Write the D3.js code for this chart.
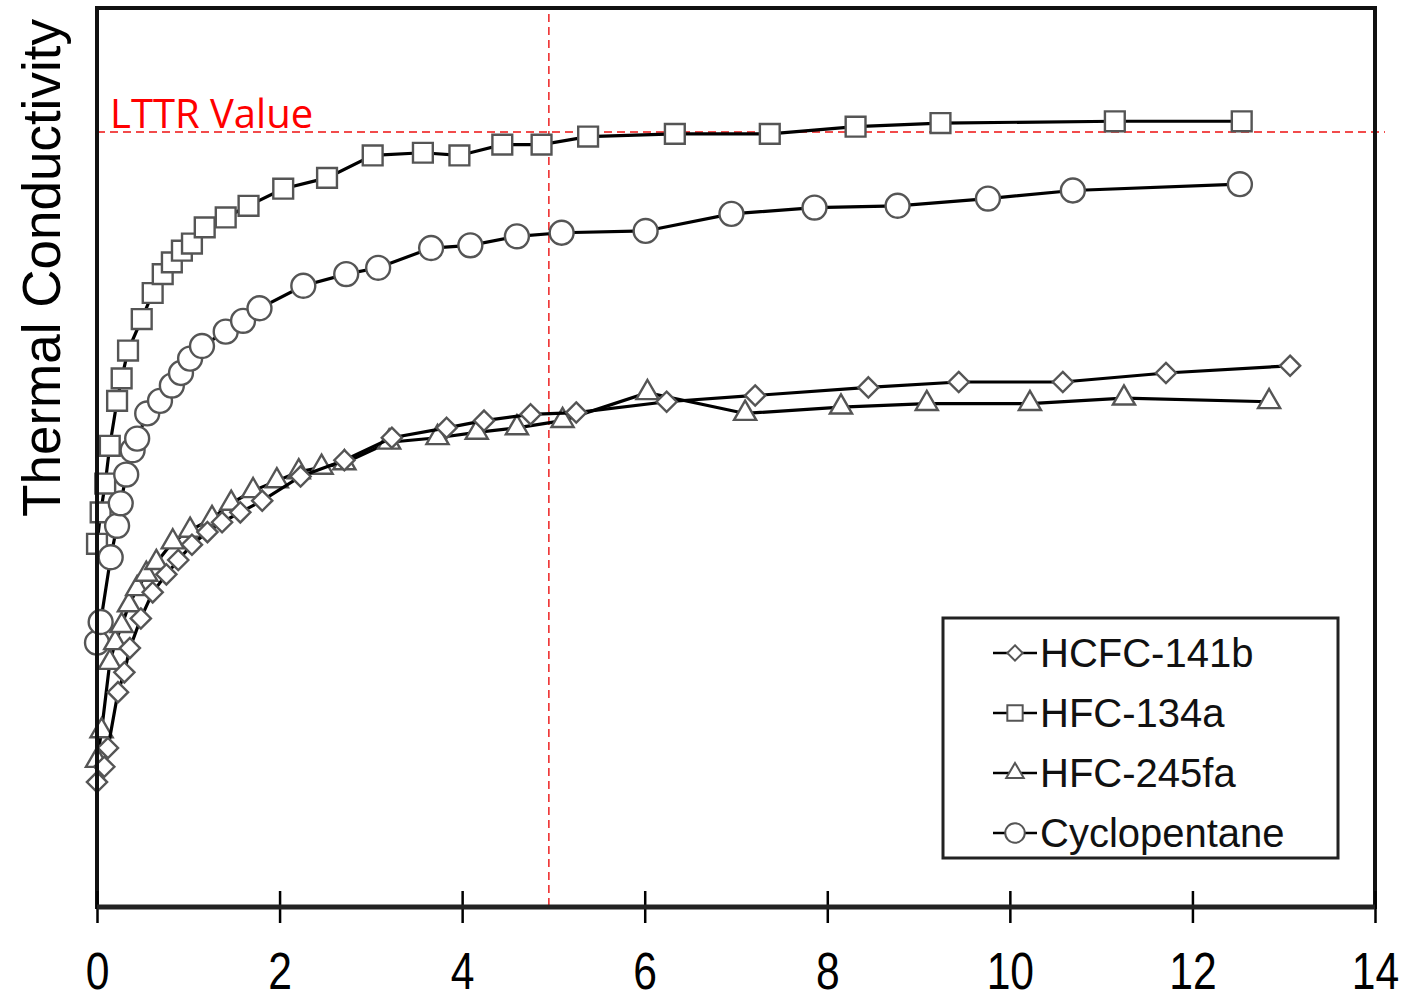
<!DOCTYPE html>
<html>
<head>
<meta charset="utf-8">
<script src="https://cdn.jsdelivr.net/npm/d3@7"></script>
<style>
	body { margin: 0; background: #fff; }
	svg { display: block; font-family: "Liberation Sans", Arial, sans-serif; }
	.axis text { font-size: 52px; fill: #000; }
	.axis line { stroke: #000; stroke-width: 2.5px; }
</style>
</head>
<body>
<div id="chart"></div>
<script>
'use strict';

// series: [x, relative conductivity]
const hcfc141b = [
	[0, 13.9], [0.08, 15.6], [0.12, 17.7], [0.23, 23.9], [0.30, 26.1], [0.36, 28.8],
	[0.48, 32.1], [0.61, 35.0], [0.76, 37.0], [0.89, 38.6], [1.04, 40.3], [1.21, 41.7],
	[1.37, 42.8], [1.57, 43.9], [1.81, 45.2], [2.23, 47.9], [2.71, 49.7], [3.23, 52.2],
	[3.83, 53.3], [4.24, 54.1], [4.75, 54.8], [5.25, 55.0], [6.24, 56.2], [7.21, 56.9],
	[8.45, 57.8], [9.44, 58.4], [10.58, 58.4], [11.71, 59.4], [13.07, 60.2]
];
const hfc134a = [
	[0, 40.4], [0.04, 43.9], [0.09, 47.1], [0.14, 51.3], [0.22, 56.3], [0.27, 58.8],
	[0.34, 61.9], [0.49, 65.4], [0.61, 68.3], [0.72, 70.4], [0.82, 71.7], [0.93, 73.0],
	[1.04, 73.8], [1.18, 75.6], [1.41, 76.7], [1.66, 78.0], [2.04, 79.9], [2.52, 81.1],
	[3.02, 83.6], [3.57, 83.9], [3.97, 83.6], [4.44, 84.8], [4.87, 84.8], [5.38, 85.7],
	[6.33, 86.0], [7.37, 86.0], [8.31, 86.8], [9.24, 87.2], [11.15, 87.4], [12.54, 87.4]
];
const hfc245fa = [
	[0, 16.3], [0.05, 19.6], [0.14, 27.2], [0.20, 29.4], [0.27, 31.3], [0.35, 33.6],
	[0.44, 35.4], [0.54, 37.0], [0.65, 38.3], [0.83, 40.6], [1.02, 41.9], [1.26, 43.2],
	[1.47, 44.9], [1.71, 46.3], [1.97, 47.4], [2.21, 48.4], [2.46, 48.9], [2.71, 49.4],
	[3.20, 51.7], [3.73, 52.2], [4.16, 52.8], [4.60, 53.3], [5.10, 54.1], [6.03, 57.2],
	[7.10, 54.9], [8.15, 55.6], [9.09, 56.0], [10.22, 56.0], [11.25, 56.6], [12.84, 56.2]
];
const cyclopentane = [
	[0, 29.4], [0.04, 31.7], [0.15, 38.9], [0.22, 42.4], [0.26, 44.9], [0.32, 48.1],
	[0.39, 50.8], [0.44, 52.1], [0.55, 54.9], [0.69, 56.3], [0.82, 58.0], [0.92, 59.4],
	[1.02, 61.0], [1.15, 62.4], [1.41, 64.0], [1.60, 65.2], [1.78, 66.6], [2.26, 69.1],
	[2.73, 70.4], [3.08, 71.1], [3.66, 73.3], [4.09, 73.6], [4.60, 74.6], [5.09, 75.0],
	[6.01, 75.2], [6.95, 77.1], [7.86, 77.8], [8.77, 78.0], [9.76, 78.8], [10.69, 79.7],
	[12.52, 80.4]
];

const seriesNames = ["HCFC-141b", "HFC-134a", "HFC-245fa", "Cyclopentane"];
const xTicks = [0, 2, 4, 6, 8, 10, 12, 14];
const lttrValue = 86.2;
const markerX = 4.95;

(function () {

	const width = 1424;
	const height = 1000;
	const margin = { top: 8, right: 49, bottom: 93, left: 97 };

	const x = d3.scaleLinear()
		.domain([0, 14])
		.range([margin.left, width - margin.right]);

	const y = d3.scaleLinear()
		.domain([0, 100])
		.range([height - margin.bottom, margin.top]);

	const svg = d3.select("#chart")
		.append("svg")
		.attr("width", width)
		.attr("height", height);

	// symbols for each series
	const shapes = {
		"HCFC-141b": d3.symbol().type(d3.symbolDiamond2).size(260),
		"HFC-134a": d3.symbol().type(d3.symbolSquare2).size(500),
		"HFC-245fa": d3.symbol().type(d3.symbolTriangle2).size(350),
		"Cyclopentane": d3.symbol().type(d3.symbolCircle).size(450)
	};
	const legendShapes = {
		"HCFC-141b": d3.symbol().type(d3.symbolDiamond2).size(150),
		"HFC-134a": d3.symbol().type(d3.symbolSquare2).size(300),
		"HFC-245fa": d3.symbol().type(d3.symbolTriangle2).size(220),
		"Cyclopentane": d3.symbol().type(d3.symbolCircle).size(300)
	};

	const seriesData = {
		"HCFC-141b": hcfc141b,
		"HFC-134a": hfc134a,
		"HFC-245fa": hfc245fa,
		"Cyclopentane": cyclopentane
	};

	const line = d3.line()
		.x(d => x(d[0]))
		.y(d => y(d[1]));

	// reference lines
	svg.append("line")
		.attr("x1", x(0))
		.attr("x2", x(14) + 10)
		.attr("y1", y(lttrValue))
		.attr("y2", y(lttrValue))
		.style("stroke", "#ee1111")
		.style("stroke-width", 1.5)
		.style("stroke-dasharray", "8,5");

	svg.append("line")
		.attr("x1", x(markerX))
		.attr("x2", x(markerX))
		.attr("y1", margin.top + 6)
		.attr("y2", y(0))
		.style("stroke", "#ee2222")
		.style("stroke-width", 1.5)
		.style("stroke-dasharray", "8,5");

	svg.append("text")
		.attr("x", 110)
		.attr("y", 128)
		.style("font-family", "'Open Sans', 'Liberation Sans', sans-serif")
		.style("font-size", "40px")
		.style("fill", "#ff0000")
		.text("LTTR Value");

	// series, drawn in the order they sit on top of each other
	const drawOrder = ["HFC-134a", "Cyclopentane", "HFC-245fa", "HCFC-141b"];
	drawOrder.forEach(name => {
		const data = seriesData[name];
		const g = svg.append("g").classed("series", true);

		g.append("path")
			.datum(data)
			.attr("d", line)
			.style("fill", "none")
			.style("stroke", "#000")
			.style("stroke-width", 3.2);

		g.selectAll("path.pt")
			.data(data)
			.enter()
			.append("path")
			.classed("pt", true)
			.attr("transform", d => `translate(${x(d[0])}, ${y(d[1])})`)
			.attr("d", shapes[name])
			.style("fill", "#fff")
			.style("stroke", "#555")
			.style("stroke-width", 2.4);
	});

	// frame
	svg.append("rect")
		.attr("x", x(0))
		.attr("y", margin.top)
		.attr("width", x(14) - x(0))
		.attr("height", y(0) - margin.top)
		.style("fill", "none")
		.style("stroke", "#111")
		.style("stroke-width", 4);

	// x axis, ticks cross the bottom line
	const xAxis = d3.axisBottom(x)
		.tickValues(xTicks)
		.tickSize(32)
		.tickPadding(29)
		.tickFormat(d3.format("d"));

	const gx = svg.append("g")
		.attr("class", "axis")
		.attr("transform", `translate(0, ${y(0) - 16})`)
		.call(xAxis);
	gx.select(".domain").remove();
	gx.selectAll(".tick text")
		.attr("x", 0)
		.attr("transform", "scale(0.82, 1)");

	svg.append("line")
		.attr("x1", x(0))
		.attr("x2", x(14))
		.attr("y1", y(0))
		.attr("y2", y(0))
		.style("stroke", "#222")
		.style("stroke-width", 5);

	// y axis title
	svg.append("text")
		.attr("transform", `translate(60, 268) rotate(-90)`)
		.style("text-anchor", "middle")
		.style("font-size", "53px")
		.text("Thermal Conductivity");

	// legend
	const legend = svg.append("g")
		.attr("transform", "translate(943, 618)");

	legend.append("rect")
		.attr("width", 395)
		.attr("height", 240)
		.style("fill", "#fff")
		.style("stroke", "#222")
		.style("stroke-width", 3);

	const item = legend.selectAll("g.item")
		.data(seriesNames)
		.enter()
		.append("g")
		.classed("item", true)
		.attr("transform", (d, i) => `translate(0, ${35 + i * 60})`);

	item.append("line")
		.attr("x1", 50)
		.attr("x2", 94)
		.style("stroke", "#000")
		.style("stroke-width", 2.5);

	item.append("path")
		.attr("transform", "translate(72, 0)")
		.attr("d", d => legendShapes[d]())
		.style("fill", "#fff")
		.style("stroke", "#555")
		.style("stroke-width", 2);

	item.append("text")
		.attr("x", 97)
		.attr("dy", "0.36em")
		.style("font-size", "40px")
		.style("fill", "#111")
		.text(d => d);

})();
</script>
</body>
</html>
